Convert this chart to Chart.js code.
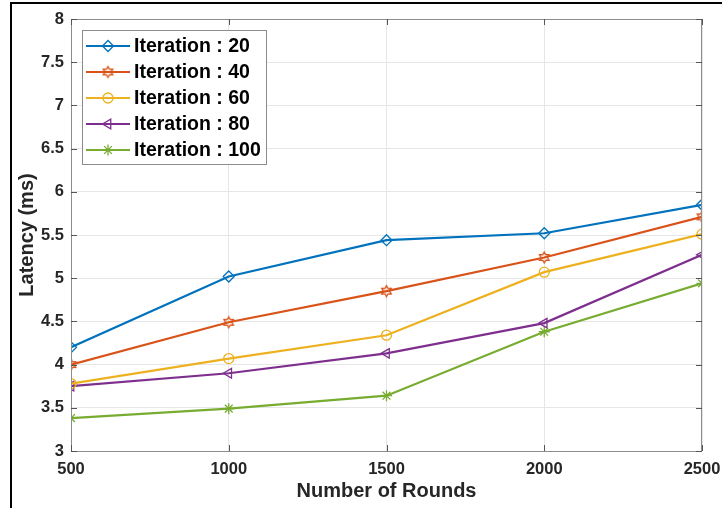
<!DOCTYPE html>
<html lang="en">
<head>
  <meta charset="UTF-8" />
  <title>Latency vs Number of Rounds</title>
  <script src="https://cdn.jsdelivr.net/npm/chart.js"></script>
  <style>
    html, body {
      margin: 0;
      padding: 0;
      background: #ffffff;
    }

    #wrap {
      width: 722px;
      height: 508px;
    }
  </style>
</head>
<body>
  <div id="wrap"><canvas id="latencyChart" width="722" height="508"></canvas></div>

  <script>
    // values
    const rounds = [500, 1000, 1500, 2000, 2500];
    const iter20 = [4.20, 5.02, 5.44, 5.52, 5.85];
    const iter40 = [4.00, 4.49, 4.85, 5.24, 5.71];
    const iter60 = [3.78, 4.07, 4.34, 5.07, 5.51];
    const iter80 = [3.75, 3.90, 4.13, 4.48, 5.27];
    const iter100 = [3.38, 3.49, 3.64, 4.38, 4.94];
    const seriesLabels = ["Iteration : 20", "Iteration : 40", "Iteration : 60", "Iteration : 80", "Iteration : 100"];
    const xTicks = [500, 1000, 1500, 2000, 2500];
    const yTicks = [3, 3.5, 4, 4.5, 5, 5.5, 6, 6.5, 7, 7.5, 8];

    const FONT = "'Liberation Sans', Arial, sans-serif";
    Chart.defaults.font.family = FONT;
    Chart.defaults.color = "#262626";

    // MATLAB style hexagram marker, chart.js has no built-in one
    function hexagram(color, r) {
      const c = document.createElement("canvas");
      const s = Math.ceil(r * 2 + 4);
      c.width = c.height = s;
      const g = c.getContext("2d");
      g.strokeStyle = color;
      g.lineWidth = 1.3;
      g.beginPath();
      for (let i = 0; i < 12; i++) {
        const a = -Math.PI / 2 + i * Math.PI / 6;
        const rr = i % 2 === 0 ? r : r / Math.sqrt(3);
        const px = s / 2 + rr * Math.cos(a);
        const py = s / 2 + rr * Math.sin(a);
        if (i === 0) g.moveTo(px, py); else g.lineTo(px, py);
      }
      g.closePath();
      g.stroke();
      return c;
    }

    function series(label, values, color, style, extra) {
      return Object.assign({
        label,
        data: rounds.map((r, i) => ({ x: r, y: values[i] })),
        borderColor: color,
        pointBorderColor: color,
        pointBackgroundColor: "rgba(0,0,0,0)",
        borderWidth: 2.2,
        pointStyle: style,
        pointRadius: 5.5,
        pointBorderWidth: 1.3,
        tension: 0
      }, extra || {});
    }

    const figurePlugin = {
      id: "figure",
      beforeDraw(chart) {
        const ctx = chart.ctx;
        ctx.save();
        ctx.fillStyle = "#ffffff";
        ctx.fillRect(0, 0, chart.width, chart.height);
        ctx.restore();
      },
      afterDatasetsDraw(chart) {
        const { ctx, chartArea: a, scales } = chart;
        ctx.save();
        ctx.strokeStyle = "#8c8c8c";
        ctx.lineWidth = 1;
        ctx.strokeRect(a.left + 0.5, a.top + 0.5, a.right - a.left - 1, a.bottom - a.top);
        // inner tick marks on all four sides
        ctx.strokeStyle = "#555";
        ctx.beginPath();
        yTicks.forEach(v => {
          const y = Math.round(scales.y.getPixelForValue(v)) + 0.5;
          ctx.moveTo(a.left, y); ctx.lineTo(a.left + 6, y);
          ctx.moveTo(a.right, y); ctx.lineTo(a.right - 6, y);
        });
        xTicks.forEach(v => {
          const x = Math.round(scales.x.getPixelForValue(v)) + 0.5;
          ctx.moveTo(x, a.bottom); ctx.lineTo(x, a.bottom - 6);
          ctx.moveTo(x, a.top); ctx.lineTo(x, a.top + 6);
        });
        ctx.stroke();
        ctx.restore();
      },
      afterDraw(chart) {
        const ctx = chart.ctx;
        ctx.save();
        // legend box
        ctx.fillStyle = "#ffffff";
        ctx.fillRect(82.5, 30.5, 184, 134);
        ctx.strokeStyle = "#8c8c8c";
        ctx.lineWidth = 1;
        ctx.strokeRect(82.5, 30.5, 184, 134);
        chart.data.datasets.forEach((ds, i) => {
          const y = 46 + i * 26;
          ctx.strokeStyle = ds.borderColor;
          ctx.lineWidth = 2.2;
          ctx.beginPath();
          ctx.moveTo(86, y);
          ctx.lineTo(130, y);
          ctx.stroke();
          ctx.fillStyle = "rgba(0,0,0,0)";
          ctx.lineWidth = ds.pointBorderWidth;
          if (Chart.helpers && Chart.helpers.drawPoint) {
            Chart.helpers.drawPoint(ctx, {
              pointStyle: ds.pointStyle,
              rotation: ds.pointRotation || 0,
              radius: ds.pointRadius,
              borderWidth: ds.pointBorderWidth
            }, 108, y);
          }
          ctx.fillStyle = "#000000";
          ctx.font = "bold 19.5px " + FONT;
          ctx.textBaseline = "middle";
          ctx.textAlign = "left";
          ctx.fillText(ds.label, 134, y + 1);
        });
        // outer frame lines of the figure
        ctx.strokeStyle = "#000000";
        ctx.lineWidth = 2;
        ctx.beginPath();
        ctx.moveTo(11, 508);
        ctx.lineTo(11, 3);
        ctx.lineTo(722, 3);
        ctx.stroke();
        ctx.restore();
      }
    };

    new Chart(document.getElementById("latencyChart"), {
      type: "line",
      data: {
        datasets: [
          series(seriesLabels[0], iter20, "#0072BD", "rectRot"),
          series(seriesLabels[1], iter40, "#D95319", hexagram("#D95319", 5.5)),
          series(seriesLabels[2], iter60, "#EDB120", "circle", { pointRadius: 5 }),
          series(seriesLabels[3], iter80, "#7E2F8E", "triangle", { pointRotation: -90 }),
          series(seriesLabels[4], iter100, "#77AC30", "star")
        ]
      },
      options: {
        responsive: false,
        animation: false,
        devicePixelRatio: 1,
        layout: { padding: { left: 0, top: 19, right: 0, bottom: 0 } },
        plugins: {
          legend: { display: false },
          tooltip: { enabled: false }
        },
        scales: {
          x: {
            type: "linear",
            min: 500,
            max: 2500,
            afterBuildTicks: s => { s.ticks = xTicks.map(v => ({ value: v })); },
            afterFit: s => { s.height = 57; s.paddingRight = 20; },
            grid: { color: "#e6e6e6", drawTicks: false },
            border: { display: false },
            ticks: {
              padding: 9,
              font: { size: 16.5, weight: "bold" },
              callback: v => String(v)
            },
            title: {
              display: true,
              text: "Number of Rounds",
              font: { size: 20, weight: "bold" },
              padding: { top: 0, bottom: 5 }
            }
          },
          y: {
            min: 3,
            max: 8,
            afterBuildTicks: s => { s.ticks = yTicks.map(v => ({ value: v })); },
            afterFit: s => { s.width = 71; },
            grid: { color: "#e6e6e6", drawTicks: false },
            border: { display: false },
            ticks: {
              padding: 7,
              font: { size: 16.5, weight: "bold" },
              callback: v => String(v)
            },
            title: {
              display: true,
              text: "Latency (ms)",
              font: { size: 20, weight: "bold" },
              padding: { top: 15, bottom: 0 }
            }
          }
        }
      },
      plugins: [figurePlugin]
    });
  </script>
</body>
</html>
